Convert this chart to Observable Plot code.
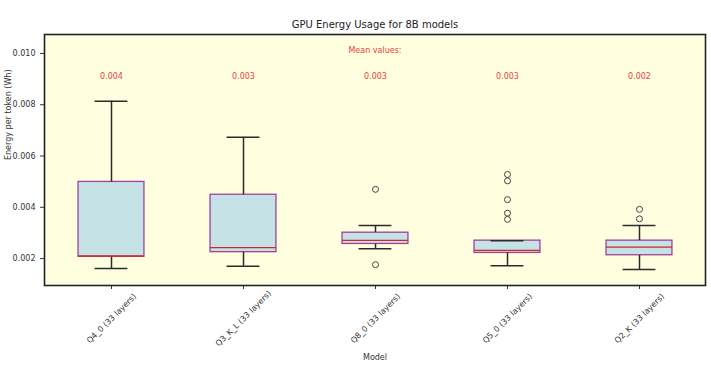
<!DOCTYPE html>
<html>
<head>
<meta charset="utf-8">
<script src="https://cdn.jsdelivr.net/npm/d3@7"></script>
<script src="https://cdn.jsdelivr.net/npm/@observablehq/plot@0.6"></script>
<style>
  html, body { margin: 0; padding: 0; background: #fff; }
</style>
</head>
<body>
<div id="chart"></div>
<script>
const title = "GPU Energy Usage for 8B models";
const models = ["Q4_0 (33 layers)", "Q3_K_L (33 layers)", "Q8_0 (33 layers)", "Q5_0 (33 layers)", "Q2_K (33 layers)"];
const whiskerLow  = [0.00161, 0.00170, 0.00238, 0.00172, 0.00157];
const q1          = [0.00207, 0.00225, 0.00257, 0.00222, 0.00213];
const median      = [0.00210, 0.00243, 0.00271, 0.00232, 0.00245];
const q3          = [0.00499, 0.00449, 0.00301, 0.00270, 0.00270];
const whiskerHigh = [0.00814, 0.00673, 0.00329, 0.00270, 0.00329];
const means       = [0.0039, 0.0033, 0.0028, 0.0029, 0.0024];
const outlierModel = ["Q8_0 (33 layers)", "Q8_0 (33 layers)",
  "Q5_0 (33 layers)", "Q5_0 (33 layers)", "Q5_0 (33 layers)", "Q5_0 (33 layers)", "Q5_0 (33 layers)",
  "Q2_K (33 layers)", "Q2_K (33 layers)"];
const outlierValue = [0.00470, 0.00176,
  0.00528, 0.00503, 0.00430, 0.00377, 0.00353,
  0.00392, 0.00355];
const yTicks = [0.002, 0.004, 0.006, 0.008, 0.010];

const boxes = models.map((m, i) => ({
  model: m, lo: whiskerLow[i], q1: q1[i], med: median[i], q3: q3[i], hi: whiskerHigh[i],
  mean: d3.format(".3f")(means[i])
}));
const outliers = outlierModel.map((m, i) => ({model: m, value: outlierValue[i]}));

const bw = (705 - 44) / models.length;
const boxInset = bw * 0.25;
const capInset = bw * 0.375;
const whisk = "#2b2b2b";

const chart = Plot.plot({
  width: 711,
  height: 366,
  marginLeft: 44,
  marginRight: 6,
  marginTop: 34,
  marginBottom: 81,
  style: {fontFamily: "DejaVu Sans, sans-serif", fontSize: "8px", color: "#333", background: "#fff"},
  x: {type: "band", domain: models, padding: 0, label: null},
  y: {domain: [0.00095, 0.01074], label: null},
  marks: [
    Plot.frame({fill: "#ffffe0"}),
    Plot.axisY({ticks: yTicks, tickFormat: d3.format(".3f"), tickSize: 4, label: null, fontSize: 8}),
    Plot.axisX({tickFormat: () => "", tickSize: 4, label: null}),
    Plot.barY(boxes, {x: "model", y1: "q1", y2: "q3", fill: "#c5e3e6", stroke: "#a0409a", strokeWidth: 1.3, insetLeft: boxInset, insetRight: boxInset}),
    Plot.ruleX(boxes, {x: "model", y1: "lo", y2: "q1", stroke: whisk, strokeWidth: 1.5}),
    Plot.ruleX(boxes, {x: "model", y1: "q3", y2: "hi", stroke: whisk, strokeWidth: 1.5}),
    Plot.tickY(boxes, {x: "model", y: "lo", stroke: whisk, strokeWidth: 1.5, insetLeft: capInset, insetRight: capInset}),
    Plot.tickY(boxes, {x: "model", y: "hi", stroke: whisk, strokeWidth: 1.5, insetLeft: capInset, insetRight: capInset}),
    Plot.tickY(boxes, {x: "model", y: "med", stroke: "#d62728", strokeWidth: 1.3, insetLeft: boxInset, insetRight: boxInset}),
    Plot.dot(outliers, {x: "model", y: "value", r: 3, stroke: "#444", strokeWidth: 1, fill: "none"}),
    Plot.text(boxes, {x: "model", text: "mean", frameAnchor: "top", lineAnchor: "middle", dy: 42, fill: "#e8433f", fontSize: 8}),
    Plot.text(["Mean values:"], {frameAnchor: "top", lineAnchor: "middle", dy: 16, fill: "#e8433f", fontSize: 8}),
    Plot.text([title], {frameAnchor: "top", lineAnchor: "middle", dy: -10, fill: "#222", fontSize: 10}),
    Plot.text(models, {x: d => d, text: d => d, frameAnchor: "bottom", lineAnchor: "middle", dy: 33, rotate: -45, fill: "#333", fontSize: 8}),
    Plot.text(["Model"], {frameAnchor: "bottom", lineAnchor: "middle", dy: 72, fill: "#333", fontSize: 8}),
    Plot.text(["Energy per token (Wh)"], {frameAnchor: "left", dx: -36, rotate: -90, fill: "#333", fontSize: 8}),
    Plot.frame({stroke: "#222", strokeWidth: 1.6})
  ]
});
document.getElementById("chart").appendChild(chart);
</script>
</body>
</html>
